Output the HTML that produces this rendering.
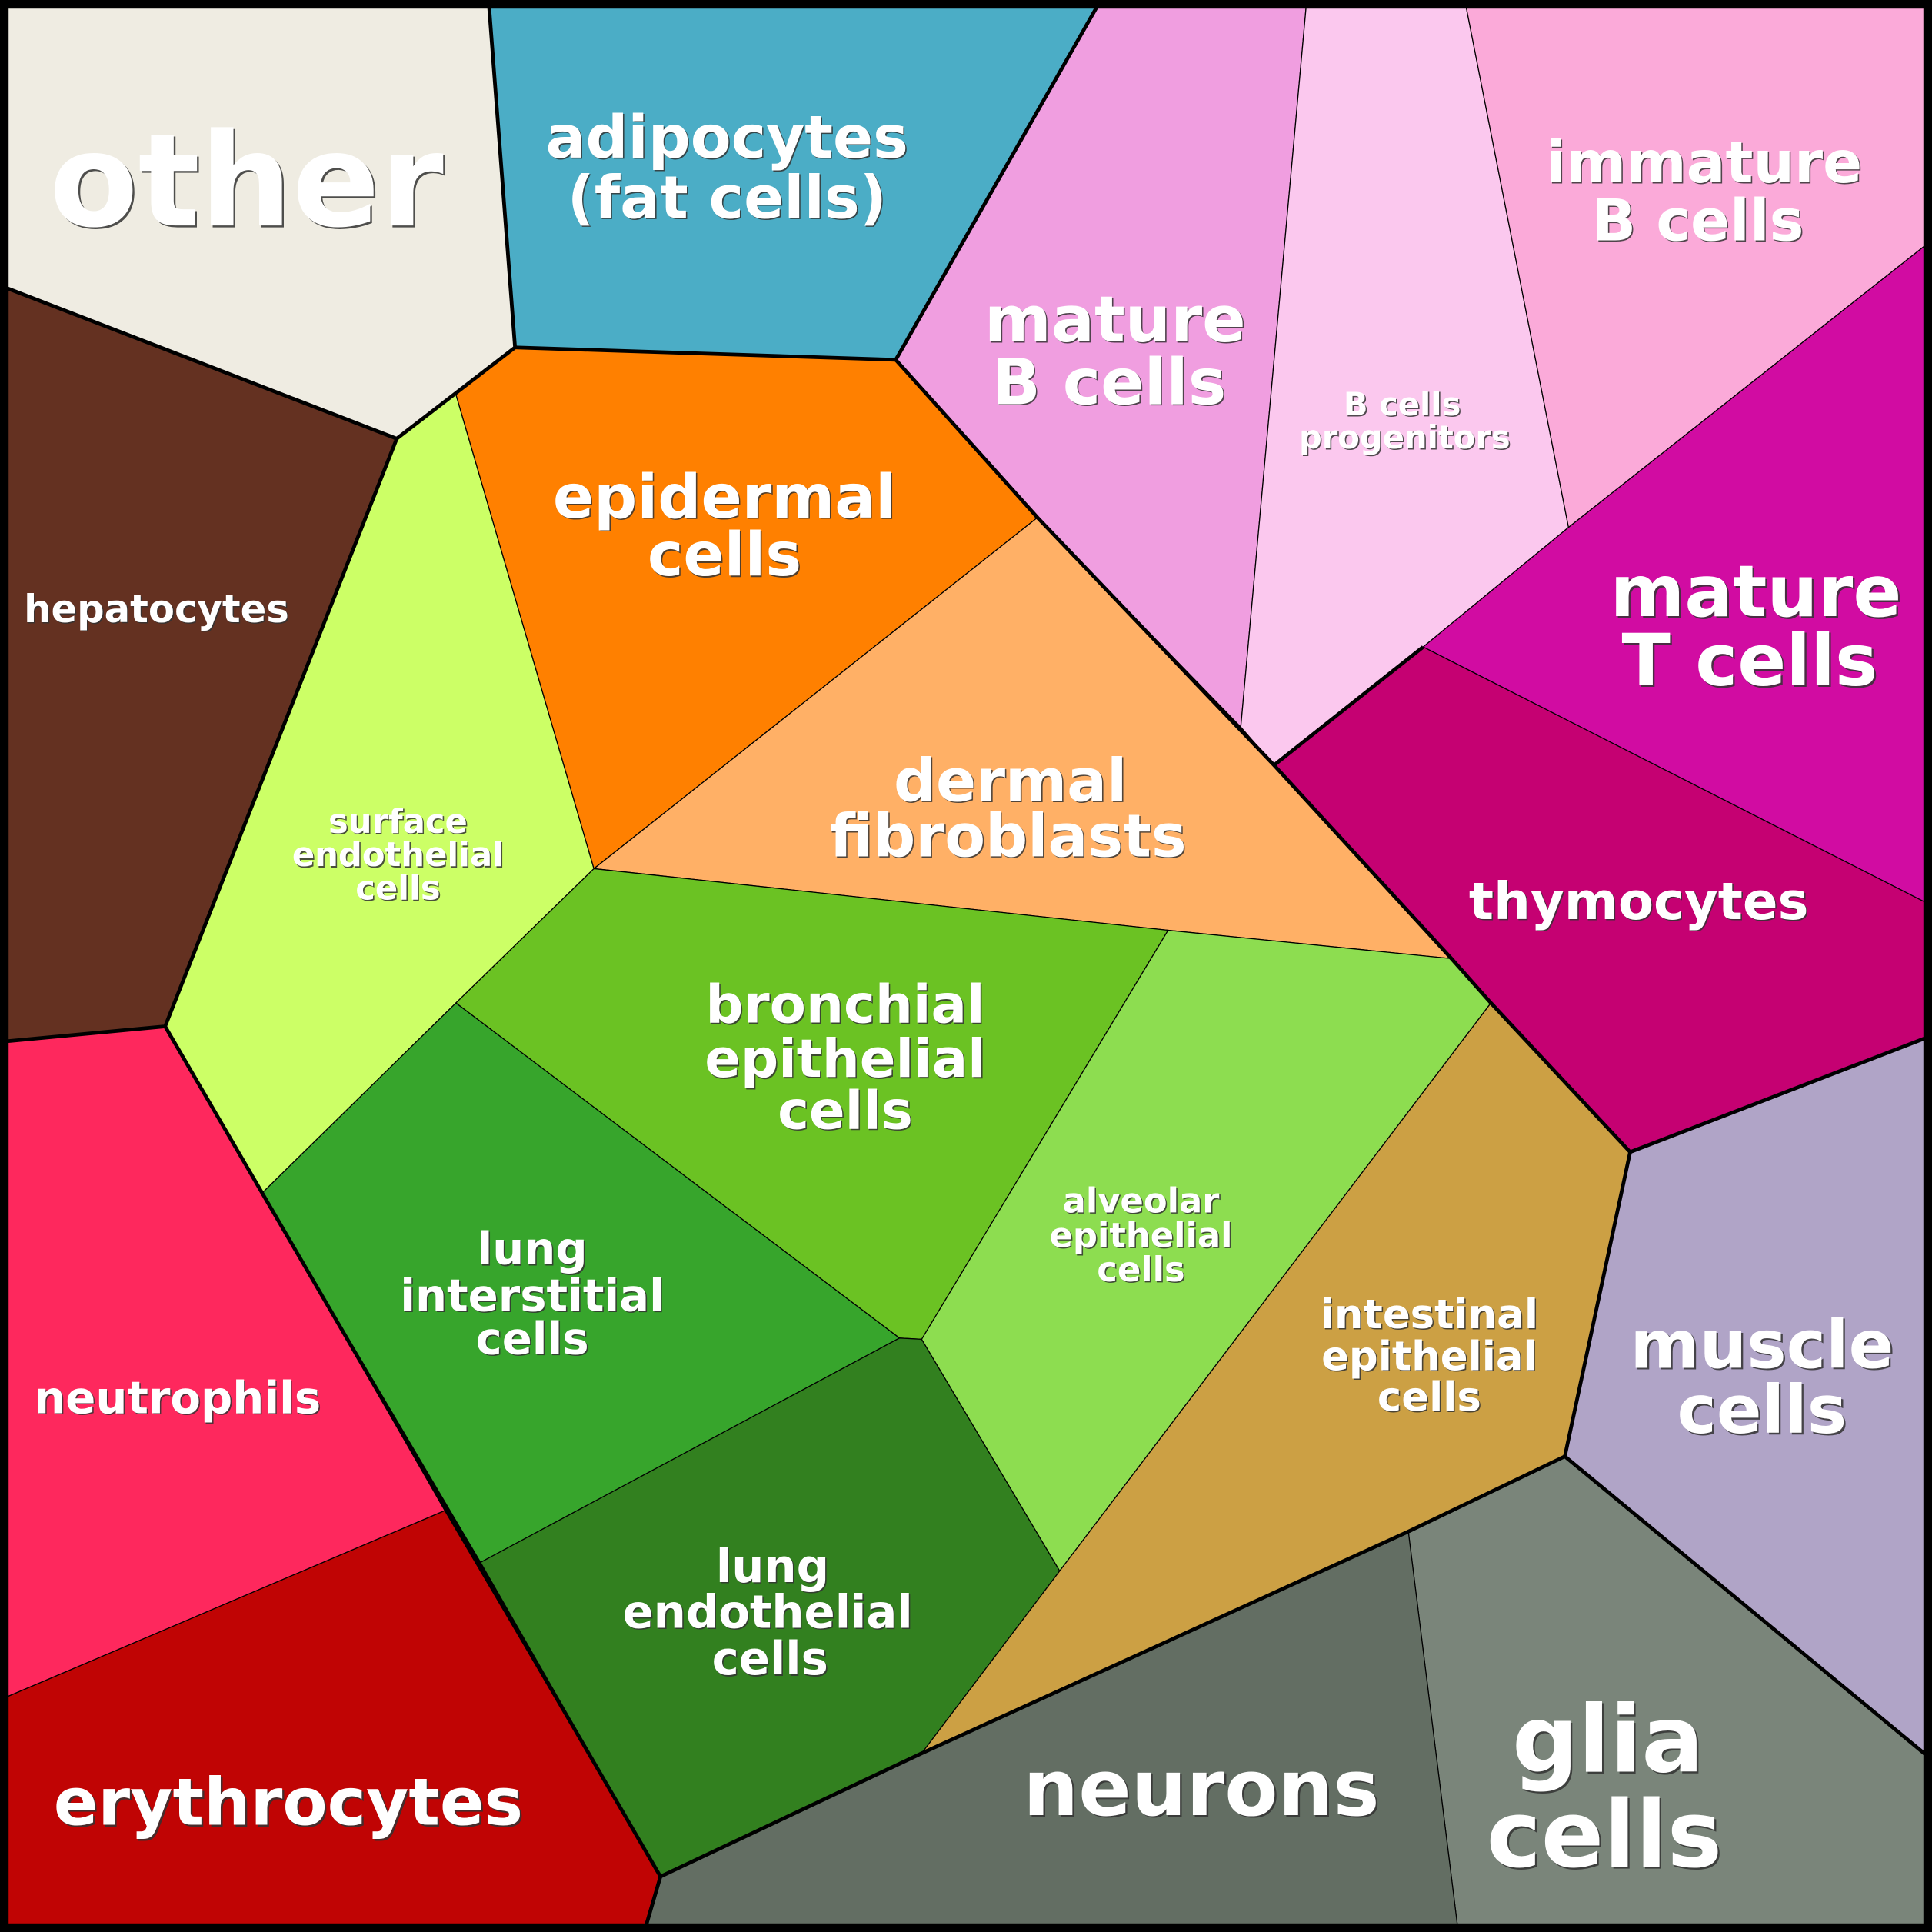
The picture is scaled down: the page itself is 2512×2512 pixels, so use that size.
<!DOCTYPE html>
<html><head><meta charset="utf-8"><style>
html,body{margin:0;padding:0;background:#000}
svg{display:block}
text{font-family:"DejaVu Sans","Liberation Sans",sans-serif;font-weight:bold;text-anchor:middle}
.s{fill:#333;opacity:0.85}
.t{fill:#fff}
</style></head><body>
<svg width="2512" height="2512" viewBox="0 0 1568 1568" xmlns="http://www.w3.org/2000/svg">
<g stroke="#000" stroke-width="0.8" stroke-linejoin="round">
<polygon fill="#efece2" points="6,6 397,6 418,282 322,356 6,234"/>
<polygon fill="#4badc6" points="397,6 890,6 727,292 418,282"/>
<polygon fill="#f09ee0" points="890,6 1060,6 1007,590 842,420 727,292"/>
<polygon fill="#fbc8ee" points="1060,6 1190,6 1273,428 1155,525 1034,621 1007,590"/>
<polygon fill="#fbaad9" points="1190,6 1564,6 1564,198 1273,428"/>
<polygon fill="#d10ca2" points="1273,428 1564,198 1564,733 1155,525"/>
<polygon fill="#c50172" points="1155,525 1564,733 1564,842 1323,935 1210,814 1178,778 1034,621"/>
<polygon fill="#643121" points="6,234 322,356 134,833 6,845"/>
<polygon fill="#ccff66" points="370,320 482,705 370,814 213,968 134,833 322,356"/>
<polygon fill="#ff8000" points="418,282 727,292 842,420 482,705 370,320"/>
<polygon fill="#ffb066" points="842,420 1034,621 1178,778 948,755 482,705"/>
<polygon fill="#6bc223" points="482,705 948,755 748,1087 730,1086 370,814"/>
<polygon fill="#8ddd50" points="948,755 1178,778 1210,814 860,1275 748,1087"/>
<polygon fill="#37a52c" points="370,814 730,1086 390,1268 213,968"/>
<polygon fill="#32801f" points="730,1086 748,1087 860,1275 748,1423 536,1523 390,1268"/>
<polygon fill="#cca044" points="1210,814 1323,935 1270,1182 1143,1243 748,1423 860,1275"/>
<polygon fill="#b0a4c7" points="1323,935 1564,842 1564,1425 1270,1182"/>
<polygon fill="#7a857a" points="1143,1243 1270,1182 1564,1425 1564,1564 1183,1564"/>
<polygon fill="#636e63" points="536,1523 748,1423 1143,1243 1183,1564 524,1564"/>
<polygon fill="#fe285d" points="6,845 134,833 213,968 361,1226 6,1377"/>
<polygon fill="#c00404" points="6,1377 361,1226 536,1523 524,1564 6,1564"/>
</g>
<g fill="none" stroke="#000" stroke-width="3" stroke-linejoin="round">
<polyline points="397,6 418,282 322,356 6,234"/>
<polyline points="418,282 727,292 890,6"/>
<polyline points="727,292 842,420 1034,621 1178,778 1210,814 1323,935 1564,842"/>
<polyline points="1034,621 1155,525"/>
<polyline points="322,356 134,833 6,845"/>
<polyline points="134,833 536,1523 524,1564"/>
<polyline points="536,1523 748,1423 1143,1243 1270,1182 1323,935"/>
<polyline points="1270,1182 1564,1425"/>
</g>
<rect x="3.5" y="3.5" width="1561" height="1561" fill="none" stroke="#000" stroke-width="7"/>
<g id="labels">
<g font-size="105"><text class="s" x="201.5" y="184.5">other</text><text class="t" x="200" y="183">other</text></g>
<g font-size="48"><text class="s" x="591" y="129">adipocytes</text><text class="t" x="590" y="128">adipocytes</text>
<text class="s" x="591" y="178">(fat cells)</text><text class="t" x="590" y="177">(fat cells)</text></g>
<g font-size="52"><text class="s" x="906" y="278">mature</text><text class="t" x="905" y="277">mature</text>
<text class="s" x="901" y="329">B cells</text><text class="t" x="900" y="328">B cells</text></g>
<g font-size="26"><text class="s" x="1139" y="338">B cells</text><text class="t" x="1138" y="337">B cells</text>
<text class="s" x="1141" y="365">progenitors</text><text class="t" x="1140" y="364">progenitors</text></g>
<g font-size="47"><text class="s" x="1384" y="149">immature</text><text class="t" x="1383" y="148">immature</text>
<text class="s" x="1379" y="196">B cells</text><text class="t" x="1378" y="195">B cells</text></g>
<g font-size="58"><text class="s" x="1426.5" y="501.5">mature</text><text class="t" x="1425" y="500">mature</text>
<text class="s" x="1421.5" y="557.5">T cells</text><text class="t" x="1420" y="556">T cells</text></g>
<g font-size="42"><text class="s" x="1331" y="747">thymocytes</text><text class="t" x="1330" y="746">thymocytes</text></g>
<g font-size="31"><text class="s" x="128" y="506">hepatocytes</text><text class="t" x="127" y="505">hepatocytes</text></g>
<g font-size="27"><text class="s" x="324" y="677">surface</text><text class="t" x="323" y="676">surface</text>
<text class="s" x="324" y="704">endothelial</text><text class="t" x="323" y="703">endothelial</text>
<text class="s" x="324" y="731">cells</text><text class="t" x="323" y="730">cells</text></g>
<g font-size="49"><text class="s" x="589" y="421">epidermal</text><text class="t" x="588" y="420">epidermal</text>
<text class="s" x="589" y="468">cells</text><text class="t" x="588" y="467">cells</text></g>
<g font-size="48"><text class="s" x="821" y="651">dermal</text><text class="t" x="820" y="650">dermal</text>
<text class="s" x="819" y="696">fibroblasts</text><text class="t" x="818" y="695">fibroblasts</text></g>
<g font-size="43"><text class="s" x="687" y="831">bronchial</text><text class="t" x="686" y="830">bronchial</text>
<text class="s" x="687" y="875">epithelial</text><text class="t" x="686" y="874">epithelial</text>
<text class="s" x="687" y="917">cells</text><text class="t" x="686" y="916">cells</text></g>
<g font-size="28"><text class="s" x="927" y="985">alveolar</text><text class="t" x="926" y="984">alveolar</text>
<text class="s" x="927" y="1013">epithelial</text><text class="t" x="926" y="1012">epithelial</text>
<text class="s" x="927" y="1041">cells</text><text class="t" x="926" y="1040">cells</text></g>
<g font-size="36"><text class="s" x="433" y="1027">lung</text><text class="t" x="432" y="1026">lung</text>
<text class="s" x="433" y="1065">interstitial</text><text class="t" x="432" y="1064">interstitial</text>
<text class="s" x="433" y="1100">cells</text><text class="t" x="432" y="1099">cells</text></g>
<g font-size="37"><text class="s" x="628" y="1285">lung</text><text class="t" x="627" y="1284">lung</text>
<text class="s" x="624" y="1322">endothelial</text><text class="t" x="623" y="1321">endothelial</text>
<text class="s" x="626" y="1360">cells</text><text class="t" x="625" y="1359">cells</text></g>
<g font-size="33"><text class="s" x="1161" y="1079">intestinal</text><text class="t" x="1160" y="1078">intestinal</text>
<text class="s" x="1161" y="1113">epithelial</text><text class="t" x="1160" y="1112">epithelial</text>
<text class="s" x="1161" y="1146">cells</text><text class="t" x="1160" y="1145">cells</text></g>
<g font-size="54"><text class="s" x="1431.5" y="1111.5">muscle</text><text class="t" x="1430" y="1110">muscle</text>
<text class="s" x="1431.5" y="1164.5">cells</text><text class="t" x="1430" y="1163">cells</text></g>
<g font-size="75"><text class="s" x="1306.5" y="1439.5">glia</text><text class="t" x="1305" y="1438">glia</text>
<text class="s" x="1303.5" y="1516.5">cells</text><text class="t" x="1302" y="1515">cells</text></g>
<g font-size="63"><text class="s" x="976.5" y="1474.5">neurons</text><text class="t" x="975" y="1473">neurons</text></g>
<g font-size="36"><text class="s" x="145" y="1148">neutrophils</text><text class="t" x="144" y="1147">neutrophils</text></g>
<g font-size="53"><text class="s" x="235.5" y="1482.5">erythrocytes</text><text class="t" x="234" y="1481">erythrocytes</text></g>
</g>
</svg>
</body></html>
